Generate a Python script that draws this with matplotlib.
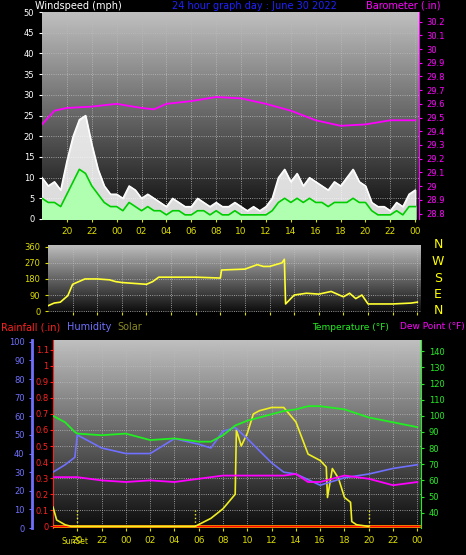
import numpy as np
import matplotlib
matplotlib.use("Agg")
import matplotlib.pyplot as plt

W, H = 466, 555
# ---- data ----
t_wind = np.arange(18, 48.01, 0.5)
gust = [10,8,9,7,14,20,24,25,18,12,8,6,6,5,8,7,5,6,5,4,3,5,4,3,3,5,4,3,4,3,
        3,4,3,2,3,2,3,5,10,12,9,11,8,10,9,8,7,9,8,10,12,9,8,4,3,3,2,4,3,6,7]
avg = [5,4,4,3,6,9,12,11,8,6,4,3,3,2,4,3,2,3,2,2,1,2,2,1,1,2,2,1,2,1,
       1,2,1,1,1,1,1,2,4,5,4,5,4,5,4,4,3,4,4,4,5,4,4,2,1,1,1,2,1,3,3]
t_baro = [18,19,20,22,24,26,27,28,30,32,34,36,38,40,42,44,46,48]
baro = [29.45,29.55,29.57,29.58,29.6,29.57,29.56,29.6,29.62,29.65,29.64,29.6,29.55,29.48,29.44,29.45,29.48,29.48]

t_dir = [18,18.5,19,19.5,19.6,20,20.5,21,22,23,23.5,24,25,26,26.5,27,28,30,32,32.1,34,35,35.5,36,37,37.2,37.3,38,39,40,41,42,42.5,43,43.5,44,46,47.5,48]
wdir = [30,45,50,80,85,150,165,180,180,175,165,160,155,150,165,190,190,190,185,230,235,260,250,250,270,290,40,90,100,95,110,80,100,70,90,40,40,45,50]

t_b = [18,19,19.8,20,22,24,26,28,30,31,32,33,34,36,37,38,39,40,42,44,46,48]
temp = [100,96,90,89,88,89,85,86,84,84,88,94,97,101,103,104,106,106,104,99,96,93]
dew = [62,62,62,62,60,59,60,59,61,62,63,63,63,63,63,64,59,59,63,61,57,59]
hum = [30,34,38,50,43,40,40,48,45,43,52,54,48,35,30,29,26,23,27,29,32,34]
t_sol = [18,18.3,19,19.5,29.7,31,32,33,33.1,33.5,34,34.5,35,36,37,38,39,40,40.5,40.6,41,41.5,42,42.5,42.6,43,44]
solar = [0.12,0.04,0.01,0,0,0.05,0.11,0.2,0.6,0.5,0.58,0.7,0.72,0.74,0.74,0.65,0.45,0.41,0.37,0.18,0.36,0.3,0.18,0.15,0.03,0.01,0]
hour_ticks = np.arange(20, 48.1, 2)

def ax_at(x0, y0, x1, y1):
    return fig.add_axes([x0/W, 1-y1/H, (x1-x0)/W, (y1-y0)/H])

def grad(ax):
    g = np.linspace(0.05, 0.75, 256).reshape(-1, 1)
    ax.imshow(g, cmap="gray", vmin=0, vmax=1, aspect="auto", origin="lower",
              extent=[0, 1, 0, 1], transform=ax.transAxes, zorder=0)

def hfmt(ax, color="#dddd00", show=True):
    ax.set_xticks(hour_ticks)
    ax.set_xticklabels([f"{int(h)%24:02d}" for h in hour_ticks] if show else [])
    ax.tick_params(axis="x", colors=color, labelsize=6.5, length=2)
    ax.grid(True, color="#bbbbbb", linestyle=":", linewidth=0.6)

fig = plt.figure(figsize=(W/100, H/100), dpi=100, facecolor="black")

# ---- top: wind speed ----
a1 = ax_at(42, 12, 419, 219)
grad(a1)
a1.fill_between(t_wind, gust, color="white", alpha=0.85, zorder=2)
a1.plot(t_wind, gust, color="white", lw=1, zorder=2)
a1.fill_between(t_wind, avg, color="#b0ffb0", zorder=3)
a1.plot(t_wind, avg, color="#00cc00", lw=1.2, zorder=4)
a1.set_xlim(18, 48.3); a1.set_ylim(0, 50)
a1.set_yticks(range(0, 51, 5))
a1.tick_params(axis="y", colors="white", labelsize=6, length=2)
hfmt(a1)
for s in a1.spines.values(): s.set_visible(False)
a1b = a1.twinx()
a1b.plot(t_baro, baro, color="#ff00ff", lw=1.3)
a1b.set_ylim(28.76, 30.27)
bt = np.round(np.arange(28.8, 30.21, 0.1), 1)
a1b.set_yticks(bt)
a1b.set_yticklabels([f"{v:g}" for v in bt])
a1b.tick_params(axis="y", colors="#ff00ff", labelsize=6, length=2)
for s in a1b.spines.values(): s.set_visible(False)
a1b.spines["right"].set_visible(True); a1b.spines["right"].set_color("#ff00ff")
fig.text(35/W, 1-6/H, "Windspeed (mph)", color="white", fontsize=7, va="center")
fig.text(172/W, 1-6/H, "24 hour graph day : June 30 2022", color="#2020ff", fontsize=7, va="center")
fig.text(440/W, 1-6/H, "Barometer (.in)", color="#ff00ff", fontsize=7, va="center", ha="right")

# ---- middle: wind direction ----
a2 = ax_at(48, 245, 421, 312)
grad(a2)
a2.plot(t_dir, wdir, color="#ffff33", lw=1.2, zorder=3)
a2.set_xlim(18, 48.3); a2.set_ylim(-5, 370)
a2.set_yticks([0, 90, 180, 270, 360])
a2.tick_params(axis="y", colors="#dddd00", labelsize=6, length=2)
hfmt(a2, show=False)
for s in a2.spines.values(): s.set_visible(False)
for i, c in enumerate("NWSEN"):
    fig.text(438/W, 1-(245+i*16.5)/H, c, color="#ffff00", fontsize=9, ha="center", va="center")

# ---- bottom ----
a3 = ax_at(53, 340, 421, 528)
grad(a3)
a3.set_xlim(18, 48.3)
a3.set_ylim(-0.01, 1.16)
rt = np.round(np.arange(0, 1.11, 0.1), 1)
a3.set_yticks(rt)
a3.set_yticklabels([f"{v:g}" for v in rt])
a3.tick_params(axis="y", colors="#ff2020", labelsize=6, length=2, pad=1)
hfmt(a3)
for s in a3.spines.values(): s.set_visible(False)
a3.spines["left"].set_visible(True); a3.spines["left"].set_color("#ff2020")
a3.axhline(0, color="orange", lw=2, zorder=3)
a3.axhline(0, color="red", lw=1, zorder=4)
a3.plot(t_sol, solar, color="#eeee22", lw=1.2, zorder=5)
for h in [20, 29.7, 44]:
    a3.plot([h, h], [0, 0.1], color="#eeee22", lw=1, ls=":", zorder=5)
fig.text(62/W, 1-544/H, "SunSet", color="#dddd00", fontsize=5.5, ha="left")

a3h = a3.twinx()
a3h.spines["left"].set_position(("outward", 15))
a3h.yaxis.set_label_position("left"); a3h.yaxis.tick_left()
a3h.plot(t_b, hum, color="#7070ff", lw=1.2)
a3h.set_ylim(0, 101)
a3h.set_yticks(range(0, 101, 10))
a3h.tick_params(axis="y", colors="#7070ff", labelsize=6, length=2)
for s in a3h.spines.values(): s.set_visible(False)
a3h.spines["left"].set_visible(True); a3h.spines["left"].set_color("#7070ff"); a3h.spines["left"].set_linewidth(2)

a3t = a3.twinx()
a3t.plot(t_b, temp, color="#22ee22", lw=1.3)
a3t.plot(t_b, dew, color="#ff00ff", lw=1.3)
a3t.set_ylim(30.5, 147)
a3t.set_yticks(range(40, 141, 10))
a3t.tick_params(axis="y", colors="#22ee22", labelsize=6, length=2)
for s in a3t.spines.values(): s.set_visible(False)
a3t.spines["right"].set_visible(True); a3t.spines["right"].set_color("#22ee22")

fig.text(1/W, 1-327/H, "Rainfall (.in)", color="#ff2020", fontsize=7, va="center")
fig.text(67/W, 1-327/H, "Humidity", color="#7070ff", fontsize=7, va="center")
fig.text(117/W, 1-327/H, "Solar", color="#888822", fontsize=7, va="center")
fig.text(312/W, 1-327/H, "Temperature (°F)", color="#22ee22", fontsize=6.5, va="center")
fig.text(465/W, 1-327/H, "Dew Point (°F)", color="#ff00ff", fontsize=6.5, va="center", ha="right")

fig.savefig("out.png", dpi=100, facecolor="black")
